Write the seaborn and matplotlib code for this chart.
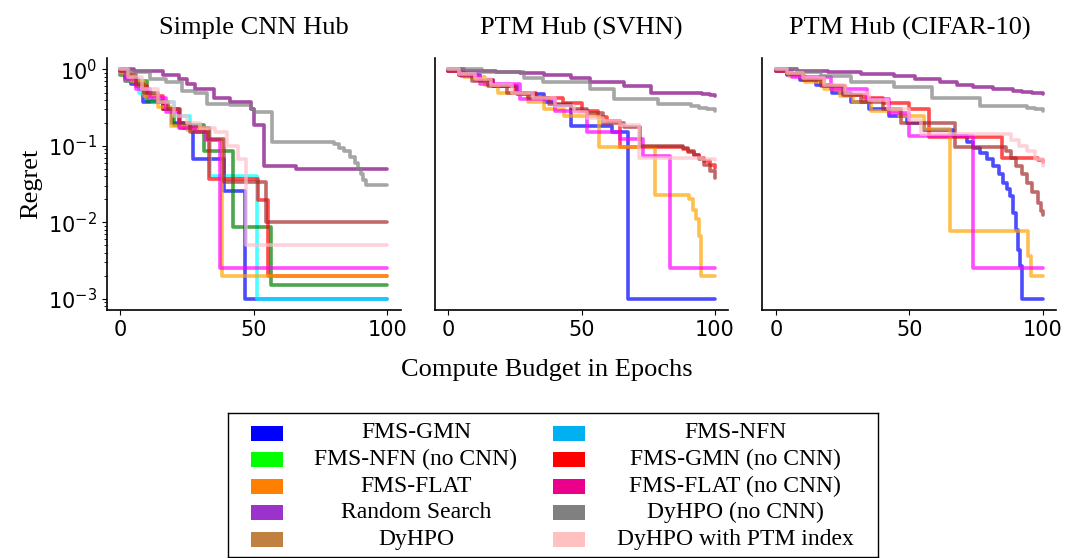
import numpy as np
import pandas as pd

import matplotlib.pyplot as plt
from matplotlib.patches import Rectangle
import seaborn as sns

sns.set_style('ticks')
plt.rcParams.update(
    {
        'font.family': ['DejaVu Sans'],
        'text.color': 'black',
        'axes.edgecolor': 'black',
        'axes.labelcolor': 'black',
        'xtick.color': 'black',
        'ytick.color': 'black',
        'axes.linewidth': 1.2,
        'xtick.labelsize': 15,
        'ytick.labelsize': 15,
    }
)
SERIF = ['Liberation Serif', 'DejaVu Serif']

## data: (epoch, regret) step points ##

# Simple CNN Hub
cnn_gmn = [(0, 0.9), (2, 0.8), (4, 0.65), (8.4, 0.37), (16, 0.30), (19.6, 0.2), (24, 0.17),
           (27.3, 0.068), (38.8, 0.026), (46.8, 0.001), (100, 0.001)]
cnn_nfn = [(0, 0.9), (3, 0.75), (7, 0.5), (12, 0.38), (20, 0.25), (26, 0.17),
           (33.8, 0.041), (51.4, 0.001), (100, 0.001)]
cnn_nfn_nocnn = [(0, 0.85), (2, 0.7), (10, 0.39), (16, 0.3), (20, 0.19), (31.4, 0.086),
                 (42.2, 0.0088), (56.6, 0.0015), (100, 0.0015)]
cnn_gmn_nocnn = [(0, 0.95), (3, 0.8), (6, 0.6), (10, 0.45), (16, 0.3), (22.5, 0.17),
                 (33.2, 0.037), (51.8, 0.0196), (55.2, 0.002), (100, 0.002)]
cnn_flat = [(0, 0.9), (4, 0.7), (9, 0.45), (14, 0.32), (19, 0.18), (25, 0.16), (32.5, 0.12),
            (38.2, 0.002), (100, 0.002)]
cnn_flat_nocnn = [(0, 0.95), (2, 0.75), (6, 0.55), (11, 0.42), (17, 0.28), (22, 0.17),
                  (28, 0.15), (32, 0.12), (37.3, 0.0025), (100, 0.0025)]
cnn_random = [(0, 1.0), (5, 0.95), (16, 0.85), (22, 0.75), (25, 0.65), (28, 0.55), (35, 0.42),
              (41, 0.37), (49, 0.3), (50, 0.19), (54, 0.055), (66, 0.05), (100, 0.05)]
cnn_dyhpo_nocnn = [(0, 1.0), (3, 0.92), (11, 0.75), (17, 0.68), (23, 0.53), (28, 0.5),
                   (32.5, 0.35), (41, 0.34), (49, 0.3), (50, 0.275), (57, 0.113), (78, 0.113),
                   (80, 0.105), (82, 0.095), (84, 0.085), (86, 0.072), (88, 0.06), (89, 0.05),
                   (90, 0.043), (91, 0.036), (92, 0.031), (100, 0.031)]
cnn_dyhpo = [(0, 0.95), (3, 0.85), (6, 0.65), (9, 0.5), (14, 0.38), (18, 0.3), (22, 0.2),
             (26, 0.15), (33, 0.125), (39, 0.034), (54.6, 0.01), (100, 0.01)]
cnn_ptm = [(0, 1.0), (3, 0.8), (8, 0.55), (14, 0.38), (20, 0.25), (25, 0.2), (30, 0.17),
           (35.6, 0.15), (40, 0.1), (44, 0.068), (47, 0.005), (100, 0.005)]

# PTM Hub (SVHN)
svhn_gmn = [(0, 0.95), (5, 0.85), (12, 0.72), (17, 0.6), (26, 0.48), (36, 0.37), (40, 0.34),
            (46, 0.18), (61.4, 0.15), (67.5, 0.001), (100, 0.001)]
svhn_gmn_nocnn = [(0, 0.95), (4, 0.85), (10, 0.72), (17, 0.6), (25, 0.5), (33, 0.42), (43, 0.36),
                  (50, 0.29), (56, 0.24), (59.6, 0.21), (64.4, 0.096), (86.7, 0.096), (88, 0.09),
                  (90, 0.083), (92, 0.076), (94, 0.069), (96, 0.063), (98, 0.057), (100, 0.052)]
svhn_flat = [(0, 0.95), (6, 0.8), (14, 0.62), (18.8, 0.5), (29.9, 0.37), (36, 0.3), (43.5, 0.25),
             (56.4, 0.096), (77.4, 0.023), (90.4, 0.02), (91.6, 0.0147), (92.8, 0.011),
             (94, 0.0066), (94.7, 0.002), (100, 0.002)]
svhn_flat_nocnn = [(0, 0.95), (5, 0.82), (12, 0.65), (27, 0.41), (40, 0.29), (52, 0.15),
                   (64.4, 0.125), (73, 0.074), (83, 0.0025), (100, 0.0025)]
svhn_random = [(0, 1.0), (6, 0.97), (18, 0.93), (27, 0.9), (36, 0.85), (46, 0.77), (53, 0.68),
               (66, 0.6), (76, 0.5), (92, 0.5), (95, 0.48), (98, 0.465), (100, 0.455)]
svhn_dyhpo_nocnn = [(0, 1.0), (12.6, 0.94), (28.6, 0.77), (35.4, 0.68), (53.3, 0.55), (62, 0.41),
                    (78.6, 0.35), (88, 0.35), (91, 0.33), (94, 0.31), (97, 0.3), (100, 0.29)]
svhn_dyhpo = [(0, 0.95), (4, 0.85), (9, 0.7), (15, 0.6), (22, 0.5), (30, 0.42), (38, 0.35),
              (46, 0.3), (52, 0.27), (58, 0.2), (66, 0.175), (71.9, 0.1), (86.7, 0.1), (88, 0.093),
              (90, 0.085), (92, 0.076), (94, 0.067), (96, 0.057), (98, 0.047), (100, 0.0385)]
svhn_ptm = [(0, 1.0), (4, 0.88), (10, 0.75), (16, 0.62), (24, 0.5), (32, 0.42), (40, 0.33),
            (47, 0.28), (52, 0.23), (58, 0.21), (64.4, 0.19), (71.4, 0.07), (90, 0.07),
            (95, 0.067), (100, 0.065)]

# PTM Hub (CIFAR-10)
c10_gmn = [(0, 0.95), (4, 0.85), (9, 0.72), (15, 0.62), (21, 0.5), (28, 0.37), (35, 0.3),
           (42.3, 0.25), (49, 0.2), (55.3, 0.16), (66.5, 0.136), (71.5, 0.111), (74, 0.095),
           (76.4, 0.082), (79, 0.068), (81.4, 0.055), (83.5, 0.043), (85.1, 0.033), (86.5, 0.027),
           (87.6, 0.022), (88.8, 0.0133), (90.1, 0.008), (90.7, 0.0044), (91.3, 0.0027),
           (92, 0.001), (100, 0.001)]
c10_gmn_nocnn = [(0, 0.95), (4, 0.88), (10, 0.75), (18, 0.6), (26, 0.47), (33, 0.42), (40, 0.36),
                 (50, 0.3), (57.2, 0.13), (84.5, 0.069), (96, 0.069), (98, 0.066),
                 (100, 0.062)]
c10_flat = [(0, 0.95), (5, 0.82), (11, 0.68), (18, 0.55), (24, 0.45), (29, 0.37), (35.5, 0.29),
            (46, 0.25), (55.3, 0.166), (65.3, 0.0077), (94.4, 0.0036), (95.7, 0.002), (100, 0.002)]
c10_flat_nocnn = [(0, 0.95), (6, 0.8), (20.6, 0.56), (34.2, 0.41), (42.5, 0.27), (49.8, 0.136),
                  (74, 0.0025), (100, 0.0025)]
c10_random = [(0, 1.0), (8, 0.97), (19.4, 0.93), (31.8, 0.88), (44.2, 0.82), (52, 0.75),
              (61.5, 0.68), (68, 0.62), (74, 0.585), (81.4, 0.55), (88.8, 0.53), (92, 0.51),
              (96, 0.495), (100, 0.48)]
c10_dyhpo_nocnn = [(0, 1.0), (8, 0.92), (16.9, 0.83), (28, 0.68), (44.2, 0.585), (58.4, 0.43),
                   (76.4, 0.336), (91.3, 0.336), (94, 0.315), (97, 0.3), (100, 0.29)]
c10_dyhpo = [(0, 0.95), (4, 0.87), (10, 0.72), (17, 0.6), (25, 0.47), (32, 0.38), (40, 0.3),
             (47, 0.2), (67.1, 0.096), (84, 0.096), (86, 0.085), (88, 0.07), (90, 0.055),
             (92, 0.043), (94, 0.033), (96, 0.025), (98, 0.018), (99.4, 0.014), (100, 0.0126)]
c10_ptm = [(0, 1.0), (4, 0.9), (10, 0.78), (18, 0.62), (26, 0.5), (35, 0.4), (42, 0.3),
           (50, 0.22), (54.5, 0.143), (84.5, 0.143), (88, 0.12), (91, 0.1), (94, 0.085),
           (97, 0.068), (100, 0.055)]

panel_titles = ['Simple CNN Hub', 'PTM Hub (SVHN)', 'PTM Hub (CIFAR-10)']
methods = ['FMS-GMN', 'FMS-NFN', 'FMS-NFN (no CNN)', 'FMS-GMN (no CNN)', 'FMS-FLAT',
           'FMS-FLAT (no CNN)', 'Random Search', 'DyHPO (no CNN)', 'DyHPO',
           'DyHPO with PTM index']
panel_runs = {
    'Simple CNN Hub': [cnn_gmn, cnn_nfn, cnn_nfn_nocnn, cnn_gmn_nocnn, cnn_flat, cnn_flat_nocnn,
                       cnn_random, cnn_dyhpo_nocnn, cnn_dyhpo, cnn_ptm],
    'PTM Hub (SVHN)': [svhn_gmn, None, None, svhn_gmn_nocnn, svhn_flat, svhn_flat_nocnn,
                       svhn_random, svhn_dyhpo_nocnn, svhn_dyhpo, svhn_ptm],
    'PTM Hub (CIFAR-10)': [c10_gmn, None, None, c10_gmn_nocnn, c10_flat, c10_flat_nocnn,
                           c10_random, c10_dyhpo_nocnn, c10_dyhpo, c10_ptm],
}

line_colors = dict(zip(methods, ['blue', 'cyan', 'green', 'red', 'orange', 'magenta',
                                 'purple', 'grey', 'brown', 'pink']))

# legend swatches use their own colours
legend_col1 = ['FMS-GMN', 'FMS-NFN (no CNN)', 'FMS-FLAT', 'Random Search', 'DyHPO']
legend_col2 = ['FMS-NFN', 'FMS-GMN (no CNN)', 'FMS-FLAT (no CNN)', 'DyHPO (no CNN)',
               'DyHPO with PTM index']
legend_colors = {
    'FMS-GMN': '#0000ff', 'FMS-NFN (no CNN)': '#00ff00', 'FMS-FLAT': '#ff8000',
    'Random Search': '#9933cc', 'DyHPO': '#c08040',
    'FMS-NFN': '#00b0f0', 'FMS-GMN (no CNN)': '#ff0000', 'FMS-FLAT (no CNN)': '#ea008a',
    'DyHPO (no CNN)': '#808080', 'DyHPO with PTM index': '#ffc0c0',
}

rows = []
for panel, runs in panel_runs.items():
    for method, run in zip(methods, runs):
        if run is None:
            continue
        for epoch, regret in run:
            rows.append({'panel': panel, 'method': method, 'epoch': epoch, 'regret': regret})
df = pd.DataFrame(rows)

## plot ##
fig, axes = plt.subplots(1, 3, figsize=(10.68, 5.58), dpi=100, sharey=True)
fig.subplots_adjust(left=0.1, right=0.989, bottom=0.444, top=0.896, wspace=0.116)

for ax, panel in zip(axes, panel_titles):
    sub = df[df['panel'] == panel]
    sns.lineplot(
        data=sub, x='epoch', y='regret', hue='method',
        hue_order=[m for m in methods if m in sub['method'].unique()],
        palette=line_colors, estimator=None, sort=False,
        drawstyle='steps-post', lw=2.6, alpha=0.7, legend=False, ax=ax
    )
    ax.set_yscale('log')
    ax.set_xticks([0, 50, 100])
    ax.set_xlabel('')
    ax.set_ylabel('')
    ax.set_title(panel, family=SERIF, fontsize=19, pad=17)
    sns.despine(ax=ax)

axes[0].set_ylabel('Regret', family=SERIF, fontsize=19)
for ax in axes[1:]:
    ax.tick_params(axis='y', which='both', left=False, labelleft=False)

fig.text(0.512, 0.337, 'Compute Budget in Epochs', family=SERIF, fontsize=19,
         ha='center', va='center')

# boxed legend with centred labels
lax = fig.add_axes([228 / 1068, 1 / 558, 650 / 1068, 144 / 558])
lax.set_xlim(0, 650)
lax.set_ylim(144, 0)
lax.set_xticks([])
lax.set_yticks([])
for sp in lax.spines.values():
    sp.set_visible(True)
    sp.set_linewidth(1.0)
for c, names in enumerate([legend_col1, legend_col2]):
    for r, name in enumerate(names):
        yc = 20 + 26.6 * r
        lax.add_patch(Rectangle((23 + 302 * c, yc - 7.5), 32, 15,
                                facecolor=legend_colors[name], edgecolor='none'))
        lax.text(188 + 319 * c, yc, name, family=SERIF, fontsize=17,
                 ha='center', va='center')

fig.savefig('out.png', dpi=100)
